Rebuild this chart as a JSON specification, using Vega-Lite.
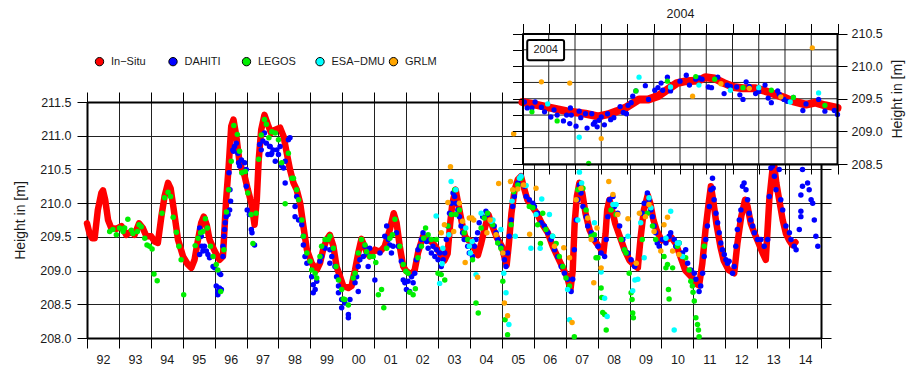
{
"$schema": "https://vega.github.io/schema/vega-lite/v6.json",
"width": 734, "height": 236,
"autosize": "none",
"padding": {"left": 87, "top": 102, "right": 96, "bottom": 28},
"background": "white",
"config": {
 "view": {"stroke": null},
 "font": "Liberation Sans",
 "axis": {"labelFont": "Liberation Sans", "labelFontSize": 12.5, "labelColor": "#1a1a1a", "titleFont": "Liberation Sans", "titleFontSize": 14, "titleFontWeight": "normal", "titleColor": "#1a1a1a", "domainColor": "#000", "domainWidth": 2, "tickColor": "#000", "tickSize": 10, "tickWidth": 1, "gridColor": "#222", "gridWidth": 1, "gridOpacity": 1, "labelPadding": 4},
 "legend": {"labelFont": "Liberation Sans", "labelFontSize": 11, "labelColor": "#1a1a1a"}
},
"datasets": {
 "insitu": [
  {"t":1992.00,"h":209.70},{"t":1992.08,"h":209.55},{"t":1992.16,"h":209.48},{"t":1992.24,"h":209.48},{"t":1992.34,"h":209.90},{"t":1992.45,"h":210.15},{"t":1992.50,"h":210.19},{"t":1992.57,"h":210.05},{"t":1992.66,"h":209.75},{"t":1992.76,"h":209.63},{"t":1992.92,"h":209.62},{"t":1993.08,"h":209.66},{"t":1993.23,"h":209.53},{"t":1993.39,"h":209.58},{"t":1993.49,"h":209.53},{"t":1993.63,"h":209.70},{"t":1993.75,"h":209.63},{"t":1993.86,"h":209.51},{"t":1994.01,"h":209.51},{"t":1994.12,"h":209.43},{"t":1994.22,"h":209.41},{"t":1994.33,"h":209.80},{"t":1994.43,"h":210.10},{"t":1994.54,"h":210.30},{"t":1994.62,"h":210.22},{"t":1994.72,"h":209.90},{"t":1994.85,"h":209.46},{"t":1995.01,"h":209.21},{"t":1995.16,"h":209.09},{"t":1995.27,"h":209.04},{"t":1995.37,"h":209.16},{"t":1995.48,"h":209.46},{"t":1995.58,"h":209.71},{"t":1995.66,"h":209.80},{"t":1995.75,"h":209.68},{"t":1995.84,"h":209.46},{"t":1996.00,"h":209.29},{"t":1996.15,"h":209.16},{"t":1996.26,"h":209.21},{"t":1996.36,"h":210.05},{"t":1996.44,"h":210.55},{"t":1996.52,"h":211.14},{"t":1996.59,"h":211.24},{"t":1996.68,"h":210.99},{"t":1996.78,"h":210.60},{"t":1996.94,"h":210.40},{"t":1997.04,"h":210.20},{"t":1997.15,"h":210.00},{"t":1997.25,"h":209.68},{"t":1997.32,"h":210.05},{"t":1997.38,"h":210.64},{"t":1997.46,"h":211.09},{"t":1997.56,"h":211.31},{"t":1997.67,"h":211.16},{"t":1997.77,"h":211.04},{"t":1997.90,"h":211.09},{"t":1998.05,"h":211.12},{"t":1998.16,"h":210.99},{"t":1998.26,"h":210.74},{"t":1998.36,"h":210.50},{"t":1998.47,"h":210.30},{"t":1998.57,"h":210.20},{"t":1998.68,"h":210.00},{"t":1998.78,"h":209.66},{"t":1998.89,"h":209.31},{"t":1999.04,"h":209.11},{"t":1999.20,"h":209.01},{"t":1999.30,"h":209.11},{"t":1999.41,"h":209.33},{"t":1999.51,"h":209.46},{"t":1999.61,"h":209.53},{"t":1999.72,"h":209.36},{"t":1999.82,"h":209.06},{"t":1999.93,"h":208.91},{"t":2000.03,"h":208.77},{"t":2000.19,"h":208.74},{"t":2000.29,"h":208.77},{"t":2000.40,"h":209.01},{"t":2000.50,"h":209.26},{"t":2000.60,"h":209.47},{"t":2000.76,"h":209.28},{"t":2000.86,"h":209.21},{"t":2001.02,"h":209.31},{"t":2001.18,"h":209.28},{"t":2001.33,"h":209.36},{"t":2001.49,"h":209.61},{"t":2001.61,"h":209.85},{"t":2001.70,"h":209.71},{"t":2001.80,"h":209.36},{"t":2001.91,"h":209.06},{"t":2002.01,"h":208.99},{"t":2002.17,"h":208.94},{"t":2002.27,"h":209.01},{"t":2002.37,"h":209.26},{"t":2002.53,"h":209.51},{"t":2002.69,"h":209.46},{"t":2002.84,"h":209.41},{"t":2003.00,"h":209.30},{"t":2003.20,"h":209.15},{"t":2003.30,"h":209.25},{"t":2003.38,"h":209.70},{"t":2003.45,"h":210.00},{"t":2003.55,"h":210.20},{"t":2003.65,"h":209.95},{"t":2003.75,"h":209.70},{"t":2003.85,"h":209.50},{"t":2003.95,"h":209.45},{"t":2004.00,"h":209.45},{"t":2004.10,"h":209.36},{"t":2004.25,"h":209.23},{"t":2004.35,"h":209.40},{"t":2004.45,"h":209.60},{"t":2004.58,"h":209.83},{"t":2004.70,"h":209.66},{"t":2004.85,"h":209.48},{"t":2005.00,"h":209.36},{"t":2005.08,"h":209.20},{"t":2005.15,"h":209.08},{"t":2005.22,"h":209.40},{"t":2005.30,"h":209.85},{"t":2005.40,"h":210.20},{"t":2005.50,"h":210.35},{"t":2005.60,"h":210.40},{"t":2005.68,"h":210.25},{"t":2005.80,"h":210.05},{"t":2005.95,"h":209.95},{"t":2006.10,"h":209.85},{"t":2006.25,"h":209.70},{"t":2006.44,"h":209.56},{"t":2006.60,"h":209.35},{"t":2006.75,"h":209.20},{"t":2006.90,"h":209.05},{"t":2007.05,"h":208.90},{"t":2007.15,"h":208.72},{"t":2007.22,"h":209.00},{"t":2007.28,"h":209.70},{"t":2007.35,"h":210.10},{"t":2007.43,"h":210.30},{"t":2007.52,"h":210.15},{"t":2007.62,"h":209.85},{"t":2007.75,"h":209.60},{"t":2007.90,"h":209.45},{"t":2008.05,"h":209.35},{"t":2008.18,"h":209.26},{"t":2008.25,"h":209.55},{"t":2008.30,"h":209.90},{"t":2008.37,"h":210.05},{"t":2008.45,"h":209.90},{"t":2008.55,"h":209.70},{"t":2008.70,"h":209.50},{"t":2008.85,"h":209.30},{"t":2009.00,"h":209.15},{"t":2009.15,"h":209.08},{"t":2009.26,"h":209.04},{"t":2009.35,"h":209.50},{"t":2009.45,"h":209.90},{"t":2009.57,"h":210.12},{"t":2009.65,"h":210.00},{"t":2009.75,"h":209.75},{"t":2009.85,"h":209.60},{"t":2010.00,"h":209.45},{"t":2010.15,"h":209.45},{"t":2010.30,"h":209.50},{"t":2010.45,"h":209.40},{"t":2010.60,"h":209.20},{"t":2010.75,"h":209.00},{"t":2010.95,"h":208.90},{"t":2011.10,"h":208.80},{"t":2011.18,"h":208.78},{"t":2011.28,"h":209.10},{"t":2011.38,"h":209.60},{"t":2011.48,"h":210.00},{"t":2011.55,"h":210.25},{"t":2011.62,"h":210.05},{"t":2011.72,"h":209.70},{"t":2011.85,"h":209.35},{"t":2011.95,"h":209.15},{"t":2012.10,"h":209.01},{"t":2012.28,"h":208.96},{"t":2012.38,"h":209.40},{"t":2012.50,"h":209.80},{"t":2012.62,"h":210.05},{"t":2012.70,"h":209.95},{"t":2012.80,"h":209.70},{"t":2012.91,"h":209.56},{"t":2013.05,"h":209.40},{"t":2013.17,"h":209.26},{"t":2013.27,"h":209.16},{"t":2013.38,"h":210.05},{"t":2013.48,"h":210.50},{"t":2013.54,"h":210.54},{"t":2013.60,"h":210.30},{"t":2013.69,"h":210.05},{"t":2013.80,"h":209.75},{"t":2013.90,"h":209.55},{"t":2014.00,"h":209.45},{"t":2014.10,"h":209.38},{"t":2014.20,"h":209.42}
 ],
 "pts": [
  {"s":"DAHITI","t":1995.53,"h":209.63},{"s":"DAHITI","t":1995.58,"h":209.51},{"s":"DAHITI","t":1995.60,"h":209.36},{"s":"DAHITI","t":1995.53,"h":209.24},{"s":"DAHITI","t":1995.63,"h":209.29},{"s":"DAHITI","t":1995.68,"h":209.36},{"s":"DAHITI","t":1995.79,"h":209.24},{"s":"DAHITI","t":1995.84,"h":209.19},{"s":"DAHITI","t":1995.74,"h":209.29},{"s":"DAHITI","t":1995.95,"h":209.06},{"s":"DAHITI","t":1996.00,"h":209.04},{"s":"DAHITI","t":1996.15,"h":208.96},{"s":"DAHITI","t":1996.05,"h":208.77},{"s":"DAHITI","t":1996.10,"h":208.69},{"s":"DAHITI","t":1996.15,"h":208.74},{"s":"DAHITI","t":1996.10,"h":208.64},{"s":"DAHITI","t":1996.21,"h":208.72},{"s":"DAHITI","t":1996.19,"h":208.94},{"s":"DAHITI","t":1996.26,"h":209.21},{"s":"DAHITI","t":1996.26,"h":209.36},{"s":"DAHITI","t":1996.29,"h":209.51},{"s":"DAHITI","t":1996.31,"h":209.61},{"s":"DAHITI","t":1996.33,"h":209.71},{"s":"DAHITI","t":1996.36,"h":209.80},{"s":"DAHITI","t":1996.42,"h":209.83},{"s":"DAHITI","t":1996.47,"h":209.90},{"s":"DAHITI","t":1996.50,"h":210.03},{"s":"DAHITI","t":1996.48,"h":210.20},{"s":"DAHITI","t":1996.45,"h":210.45},{"s":"DAHITI","t":1996.57,"h":210.79},{"s":"DAHITI","t":1996.62,"h":210.84},{"s":"DAHITI","t":1996.68,"h":210.89},{"s":"DAHITI","t":1996.73,"h":210.74},{"s":"DAHITI","t":1996.59,"h":210.77},{"s":"DAHITI","t":1996.75,"h":210.60},{"s":"DAHITI","t":1996.84,"h":210.64},{"s":"DAHITI","t":1996.78,"h":210.55},{"s":"DAHITI","t":1996.94,"h":210.60},{"s":"DAHITI","t":1996.99,"h":210.50},{"s":"DAHITI","t":1996.99,"h":210.25},{"s":"DAHITI","t":1997.02,"h":209.90},{"s":"DAHITI","t":1997.09,"h":209.83},{"s":"DAHITI","t":1997.15,"h":209.61},{"s":"DAHITI","t":1997.25,"h":209.38},{"s":"DAHITI","t":1997.17,"h":209.56},{"s":"DAHITI","t":1997.41,"h":210.87},{"s":"DAHITI","t":1997.46,"h":210.79},{"s":"DAHITI","t":1997.51,"h":210.92},{"s":"DAHITI","t":1997.56,"h":211.04},{"s":"DAHITI","t":1997.62,"h":210.89},{"s":"DAHITI","t":1997.67,"h":210.72},{"s":"DAHITI","t":1997.72,"h":210.84},{"s":"DAHITI","t":1997.77,"h":210.72},{"s":"DAHITI","t":1997.83,"h":210.79},
  {"s":"DAHITI","t":1997.74,"h":210.84},{"s":"DAHITI","t":1997.79,"h":210.74},{"s":"DAHITI","t":1997.90,"h":210.62},{"s":"DAHITI","t":1997.95,"h":210.79},{"s":"DAHITI","t":1998.00,"h":210.72},{"s":"DAHITI","t":1998.05,"h":210.84},{"s":"DAHITI","t":1998.10,"h":210.55},{"s":"DAHITI","t":1998.16,"h":210.52},{"s":"DAHITI","t":1998.21,"h":210.30},{"s":"DAHITI","t":1998.21,"h":210.62},{"s":"DAHITI","t":1998.31,"h":210.94},{"s":"DAHITI","t":1998.36,"h":210.97},{"s":"DAHITI","t":1998.52,"h":209.95},{"s":"DAHITI","t":1998.52,"h":209.80},{"s":"DAHITI","t":1998.57,"h":210.10},{"s":"DAHITI","t":1998.63,"h":209.75},{"s":"DAHITI","t":1998.73,"h":209.68},{"s":"DAHITI","t":1998.78,"h":209.51},{"s":"DAHITI","t":1998.78,"h":209.38},{"s":"DAHITI","t":1998.83,"h":209.21},{"s":"DAHITI","t":1998.89,"h":209.11},{"s":"DAHITI","t":1999.04,"h":208.91},{"s":"DAHITI","t":1999.09,"h":208.79},{"s":"DAHITI","t":1999.09,"h":208.67},{"s":"DAHITI","t":1999.15,"h":208.72},{"s":"DAHITI","t":1999.20,"h":208.84},{"s":"DAHITI","t":1999.30,"h":209.14},{"s":"DAHITI","t":1999.35,"h":209.21},{"s":"DAHITI","t":1999.46,"h":209.33},{"s":"DAHITI","t":1999.51,"h":209.46},{"s":"DAHITI","t":1999.61,"h":209.31},{"s":"DAHITI","t":1999.61,"h":209.11},{"s":"DAHITI","t":1999.67,"h":209.21},{"s":"DAHITI","t":1999.77,"h":209.06},{"s":"DAHITI","t":1999.82,"h":208.91},{"s":"DAHITI","t":1999.88,"h":208.77},{"s":"DAHITI","t":1999.88,"h":208.67},{"s":"DAHITI","t":1999.98,"h":208.57},{"s":"DAHITI","t":1999.98,"h":208.45},{"s":"DAHITI","t":2000.08,"h":208.52},{"s":"DAHITI","t":2000.19,"h":208.35},{"s":"DAHITI","t":2000.19,"h":208.30},{"s":"DAHITI","t":2000.24,"h":208.57},{"s":"DAHITI","t":2000.40,"h":208.82},{"s":"DAHITI","t":2000.45,"h":208.91},{"s":"DAHITI","t":2000.50,"h":208.69},{"s":"DAHITI","t":2000.50,"h":209.06},{"s":"DAHITI","t":2000.55,"h":209.16},{"s":"DAHITI","t":2000.66,"h":209.21},{"s":"DAHITI","t":2000.71,"h":209.36},{"s":"DAHITI","t":2000.76,"h":209.26},{"s":"DAHITI","t":2000.81,"h":209.06},{"s":"DAHITI","t":2000.86,"h":209.33},{"s":"DAHITI","t":2001.02,"h":208.86},{"s":"DAHITI","t":2001.18,"h":209.26},{"s":"DAHITI","t":2001.33,"h":209.51},{"s":"DAHITI","t":2001.39,"h":209.66},{"s":"DAHITI","t":2001.44,"h":209.46},{"s":"DAHITI","t":2001.49,"h":209.38},{"s":"DAHITI","t":2001.54,"h":209.26},{"s":"DAHITI","t":2001.59,"h":209.36},{"s":"DAHITI","t":2001.70,"h":209.56},{"s":"DAHITI","t":2001.75,"h":209.36},{"s":"DAHITI","t":2001.85,"h":209.14},{"s":"DAHITI","t":2001.91,"h":208.86},{"s":"DAHITI","t":2001.96,"h":208.82},{"s":"DAHITI","t":2002.01,"h":208.72},{"s":"DAHITI","t":2002.06,"h":208.84},{"s":"DAHITI","t":2002.11,"h":208.69},{"s":"DAHITI","t":2002.17,"h":208.91},{"s":"DAHITI","t":2002.22,"h":208.82},{"s":"DAHITI","t":2002.27,"h":208.96},{"s":"DAHITI","t":2002.32,"h":209.16},{"s":"DAHITI","t":2002.37,"h":209.31},{"s":"DAHITI","t":2002.43,"h":209.36},{"s":"DAHITI","t":2002.48,"h":209.46},{"s":"DAHITI","t":2002.53,"h":209.56},{"s":"DAHITI","t":2002.64,"h":209.43},{"s":"DAHITI","t":2002.69,"h":209.33},{"s":"DAHITI","t":2002.74,"h":209.46},{"s":"DAHITI","t":2002.79,"h":209.26},{"s":"DAHITI","t":2002.84,"h":209.36},{"s":"DAHITI","t":2002.90,"h":209.21},{"s":"DAHITI","t":2002.95,"h":209.31},{"s":"DAHITI","t":2003.00,"h":209.16},{"s":"DAHITI","t":2003.05,"h":209.26},{"s":"DAHITI","t":2003.10,"h":209.06},{"s":"DAHITI","t":2003.16,"h":209.16},{"s":"DAHITI","t":2003.21,"h":209.26},{"s":"DAHITI","t":2003.26,"h":209.46},{"s":"DAHITI","t":2003.31,"h":209.66},{"s":"DAHITI","t":2003.36,"h":209.85},{"s":"DAHITI","t":2003.42,"h":210.00},{"s":"DAHITI","t":2003.47,"h":210.15},{"s":"DAHITI","t":2003.52,"h":210.10},{"s":"DAHITI","t":2003.57,"h":210.00},{"s":"DAHITI","t":2003.62,"h":209.90},
  {"s":"DAHITI","t":2003.67,"h":209.80},{"s":"DAHITI","t":2003.72,"h":209.66},{"s":"DAHITI","t":2003.77,"h":209.56},{"s":"DAHITI","t":2003.82,"h":209.46},{"s":"DAHITI","t":2003.93,"h":209.36},{"s":"DAHITI","t":2003.98,"h":209.26},{"s":"DAHITI","t":2004.08,"h":209.21},{"s":"DAHITI","t":2004.14,"h":209.36},{"s":"DAHITI","t":2004.19,"h":209.46},{"s":"DAHITI","t":2004.24,"h":209.56},{"s":"DAHITI","t":2004.29,"h":209.71},{"s":"DAHITI","t":2004.40,"h":209.80},{"s":"DAHITI","t":2004.50,"h":209.88},{"s":"DAHITI","t":2004.55,"h":209.83},{"s":"DAHITI","t":2004.66,"h":209.75},{"s":"DAHITI","t":2004.76,"h":209.66},{"s":"DAHITI","t":2004.82,"h":209.56},{"s":"DAHITI","t":2004.87,"h":209.46},{"s":"DAHITI","t":2004.97,"h":209.36},{"s":"DAHITI","t":2005.03,"h":209.26},{"s":"DAHITI","t":2005.08,"h":209.16},{"s":"DAHITI","t":2005.13,"h":209.06},{"s":"DAHITI","t":2005.18,"h":209.26},{"s":"DAHITI","t":2005.23,"h":209.51},{"s":"DAHITI","t":2005.29,"h":209.75},{"s":"DAHITI","t":2005.34,"h":209.95},{"s":"DAHITI","t":2005.39,"h":210.10},{"s":"DAHITI","t":2005.50,"h":210.30},{"s":"DAHITI","t":2005.60,"h":210.40},{"s":"DAHITI","t":2005.71,"h":210.25},{"s":"DAHITI","t":2005.76,"h":210.10},{"s":"DAHITI","t":2005.86,"h":210.05},{"s":"DAHITI","t":2005.97,"h":210.00},{"s":"DAHITI","t":2006.02,"h":209.95},{"s":"DAHITI","t":2006.12,"h":209.85},{"s":"DAHITI","t":2006.23,"h":209.71},{"s":"DAHITI","t":2006.33,"h":209.66},{"s":"DAHITI","t":2006.44,"h":209.56},{"s":"DAHITI","t":2006.54,"h":209.46},{"s":"DAHITI","t":2006.65,"h":209.31},{"s":"DAHITI","t":2006.75,"h":209.21},{"s":"DAHITI","t":2006.86,"h":209.06},{"s":"DAHITI","t":2006.96,"h":208.96},{"s":"DAHITI","t":2007.06,"h":208.87},{"s":"DAHITI","t":2007.17,"h":208.69},{"s":"DAHITI","t":2007.22,"h":208.87},{"s":"DAHITI","t":2007.27,"h":209.31},{"s":"DAHITI","t":2007.33,"h":209.75},{"s":"DAHITI","t":2007.38,"h":210.05},{"s":"DAHITI","t":2007.43,"h":210.27},{"s":"DAHITI","t":2007.48,"h":210.15},{"s":"DAHITI","t":2007.54,"h":209.95},{"s":"DAHITI","t":2007.64,"h":209.80},{"s":"DAHITI","t":2007.69,"h":209.66},{"s":"DAHITI","t":2007.80,"h":209.56},{"s":"DAHITI","t":2007.90,"h":209.46},{"s":"DAHITI","t":2008.01,"h":209.36},{"s":"DAHITI","t":2008.11,"h":209.26},{"s":"DAHITI","t":2008.22,"h":209.21},{"s":"DAHITI","t":2008.27,"h":209.46},{"s":"DAHITI","t":2008.32,"h":209.80},{"s":"DAHITI","t":2008.37,"h":210.05},{"s":"DAHITI","t":2008.48,"h":210.10},{"s":"DAHITI","t":2008.53,"h":209.95},{"s":"DAHITI","t":2008.63,"h":209.85},{"s":"DAHITI","t":2008.69,"h":209.66},{"s":"DAHITI","t":2008.79,"h":209.46},{"s":"DAHITI","t":2008.84,"h":209.31},{"s":"DAHITI","t":2008.95,"h":209.26},{"s":"DAHITI","t":2009.05,"h":209.16},{"s":"DAHITI","t":2009.16,"h":209.06},
  {"s":"DAHITI","t":2009.40,"h":209.85},{"s":"DAHITI","t":2009.46,"h":210.00},{"s":"DAHITI","t":2009.56,"h":210.15},{"s":"DAHITI","t":2009.61,"h":210.05},{"s":"DAHITI","t":2009.67,"h":209.90},{"s":"DAHITI","t":2009.72,"h":209.80},{"s":"DAHITI","t":2009.77,"h":209.66},{"s":"DAHITI","t":2009.82,"h":209.56},{"s":"DAHITI","t":2009.87,"h":209.41},{"s":"DAHITI","t":2009.93,"h":209.36},{"s":"DAHITI","t":2010.03,"h":209.46},{"s":"DAHITI","t":2010.14,"h":209.41},{"s":"DAHITI","t":2010.24,"h":209.51},{"s":"DAHITI","t":2010.29,"h":209.56},{"s":"DAHITI","t":2010.40,"h":209.46},{"s":"DAHITI","t":2010.45,"h":209.36},{"s":"DAHITI","t":2010.55,"h":209.41},{"s":"DAHITI","t":2010.66,"h":209.26},{"s":"DAHITI","t":2010.76,"h":209.31},{"s":"DAHITI","t":2010.82,"h":209.11},{"s":"DAHITI","t":2010.92,"h":209.01},{"s":"DAHITI","t":2011.03,"h":208.96},{"s":"DAHITI","t":2011.08,"h":208.87},{"s":"DAHITI","t":2011.18,"h":208.69},{"s":"DAHITI","t":2011.23,"h":208.77},{"s":"DAHITI","t":2011.29,"h":208.96},{"s":"DAHITI","t":2011.34,"h":209.21},{"s":"DAHITI","t":2011.39,"h":209.46},{"s":"DAHITI","t":2011.44,"h":209.66},{"s":"DAHITI","t":2011.50,"h":209.95},{"s":"DAHITI","t":2011.55,"h":210.20},{"s":"DAHITI","t":2011.60,"h":210.37},{"s":"DAHITI","t":2011.62,"h":210.22},{"s":"DAHITI","t":2011.65,"h":210.05},{"s":"DAHITI","t":2011.71,"h":209.85},{"s":"DAHITI","t":2011.76,"h":209.71},{"s":"DAHITI","t":2011.81,"h":209.56},{"s":"DAHITI","t":2011.86,"h":209.41},{"s":"DAHITI","t":2011.91,"h":209.31},{"s":"DAHITI","t":2011.97,"h":209.24},{"s":"DAHITI","t":2012.02,"h":209.16},{"s":"DAHITI","t":2012.07,"h":209.11},{"s":"DAHITI","t":2012.12,"h":209.14},{"s":"DAHITI","t":2012.23,"h":208.96},{"s":"DAHITI","t":2012.28,"h":209.06},{"s":"DAHITI","t":2012.33,"h":209.36},{"s":"DAHITI","t":2012.38,"h":209.61},{"s":"DAHITI","t":2012.44,"h":209.75},{"s":"DAHITI","t":2012.49,"h":209.90},{"s":"DAHITI","t":2012.54,"h":210.25},{"s":"DAHITI","t":2012.59,"h":210.30},{"s":"DAHITI","t":2012.65,"h":210.20},{"s":"DAHITI","t":2012.70,"h":210.05},{"s":"DAHITI","t":2012.75,"h":209.85},{"s":"DAHITI","t":2012.80,"h":209.75},{"s":"DAHITI","t":2012.86,"h":209.66},{"s":"DAHITI","t":2012.91,"h":209.56},{"s":"DAHITI","t":2013.01,"h":209.46},{"s":"DAHITI","t":2013.12,"h":209.46},{"s":"DAHITI","t":2013.22,"h":209.36},{"s":"DAHITI","t":2013.33,"h":209.46},{"s":"DAHITI","t":2013.38,"h":210.10},{"s":"DAHITI","t":2013.43,"h":210.52},{"s":"DAHITI","t":2013.48,"h":210.55},{"s":"DAHITI","t":2013.54,"h":210.40},{"s":"DAHITI","t":2013.59,"h":210.20},{"s":"DAHITI","t":2013.69,"h":210.50},{"s":"DAHITI","t":2013.74,"h":210.05},{"s":"DAHITI","t":2013.80,"h":209.90},{"s":"DAHITI","t":2013.90,"h":209.66},{"s":"DAHITI","t":2014.01,"h":209.56},{"s":"DAHITI","t":2014.06,"h":209.46},{"s":"DAHITI","t":2014.16,"h":209.36},{"s":"DAHITI","t":2014.22,"h":209.31},{"s":"DAHITI","t":2014.32,"h":209.61},{"s":"DAHITI","t":2014.37,"h":209.80},{"s":"DAHITI","t":2014.37,"h":210.12},{"s":"DAHITI","t":2014.37,"h":209.88},{"s":"DAHITI","t":2014.42,"h":210.50},{"s":"DAHITI","t":2014.42,"h":210.25},{"s":"DAHITI","t":2014.58,"h":210.30},{"s":"DAHITI","t":2014.63,"h":210.20},{"s":"DAHITI","t":2014.69,"h":210.05},{"s":"DAHITI","t":2014.74,"h":210.00},{"s":"DAHITI","t":2014.79,"h":209.75},{"s":"DAHITI","t":2014.84,"h":209.51},{"s":"DAHITI","t":2014.90,"h":209.36},
  {"s":"LEGOS","t":1992.71,"h":209.58},{"s":"LEGOS","t":1992.81,"h":209.61},{"s":"LEGOS","t":1992.92,"h":209.53},{"s":"LEGOS","t":1993.02,"h":209.63},{"s":"LEGOS","t":1993.13,"h":209.58},{"s":"LEGOS","t":1993.18,"h":209.63},{"s":"LEGOS","t":1993.28,"h":209.76},{"s":"LEGOS","t":1993.39,"h":209.60},{"s":"LEGOS","t":1993.44,"h":209.55},{"s":"LEGOS","t":1993.58,"h":209.58},{"s":"LEGOS","t":1993.63,"h":209.68},{"s":"LEGOS","t":1993.70,"h":209.65},{"s":"LEGOS","t":1993.81,"h":209.48},{"s":"LEGOS","t":1993.88,"h":209.38},{"s":"LEGOS","t":1993.96,"h":209.36},{"s":"LEGOS","t":1994.04,"h":209.32},{"s":"LEGOS","t":1994.10,"h":208.95},{"s":"LEGOS","t":1994.20,"h":208.85},{"s":"LEGOS","t":1994.35,"h":209.85},{"s":"LEGOS","t":1994.43,"h":210.08},{"s":"LEGOS","t":1994.54,"h":210.16},{"s":"LEGOS","t":1994.62,"h":210.10},{"s":"LEGOS","t":1994.70,"h":209.79},{"s":"LEGOS","t":1994.80,"h":209.57},{"s":"LEGOS","t":1994.88,"h":209.36},{"s":"LEGOS","t":1994.95,"h":209.16},{"s":"LEGOS","t":1995.03,"h":208.64},{"s":"LEGOS","t":1995.39,"h":209.37},{"s":"LEGOS","t":1995.48,"h":209.48},{"s":"LEGOS","t":1995.56,"h":209.56},{"s":"LEGOS","t":1995.63,"h":209.58},{"s":"LEGOS","t":1995.71,"h":209.77},{"s":"LEGOS","t":1995.77,"h":209.63},{"s":"LEGOS","t":1995.87,"h":209.36},{"s":"LEGOS","t":1995.95,"h":209.21},{"s":"LEGOS","t":1996.05,"h":209.09},{"s":"LEGOS","t":1996.10,"h":209.01},{"s":"LEGOS","t":1996.19,"h":208.69},{"s":"LEGOS","t":1996.29,"h":209.31},{"s":"LEGOS","t":1996.37,"h":209.87},{"s":"LEGOS","t":1996.44,"h":210.20},{"s":"LEGOS","t":1996.52,"h":210.62},{"s":"LEGOS","t":1996.60,"h":211.15},{"s":"LEGOS","t":1996.71,"h":211.02},{"s":"LEGOS","t":1996.78,"h":210.77},{"s":"LEGOS","t":1996.85,"h":210.45},{"s":"LEGOS","t":1996.96,"h":210.47},{"s":"LEGOS","t":1997.04,"h":210.15},{"s":"LEGOS","t":1997.14,"h":209.83},{"s":"LEGOS","t":1997.20,"h":209.40},{"s":"LEGOS","t":1997.30,"h":209.85},{"s":"LEGOS","t":1997.38,"h":210.65},{"s":"LEGOS","t":1997.46,"h":211.01},{"s":"LEGOS","t":1997.56,"h":211.24},{"s":"LEGOS","t":1997.62,"h":211.17},{"s":"LEGOS","t":1997.70,"h":210.97},{"s":"LEGOS","t":1997.79,"h":211.06},
  {"s":"LEGOS","t":1997.90,"h":211.04},{"s":"LEGOS","t":1998.00,"h":210.94},{"s":"LEGOS","t":1998.10,"h":210.60},{"s":"LEGOS","t":1998.21,"h":209.99},{"s":"LEGOS","t":1998.31,"h":210.74},{"s":"LEGOS","t":1998.42,"h":210.37},{"s":"LEGOS","t":1998.47,"h":210.37},{"s":"LEGOS","t":1998.57,"h":210.20},{"s":"LEGOS","t":1998.63,"h":210.05},{"s":"LEGOS","t":1998.73,"h":209.75},{"s":"LEGOS","t":1998.78,"h":209.51},{"s":"LEGOS","t":1998.89,"h":209.26},{"s":"LEGOS","t":1998.99,"h":209.14},{"s":"LEGOS","t":1999.04,"h":209.01},{"s":"LEGOS","t":1999.15,"h":208.96},{"s":"LEGOS","t":1999.20,"h":208.89},{"s":"LEGOS","t":1999.30,"h":209.21},{"s":"LEGOS","t":1999.35,"h":209.36},{"s":"LEGOS","t":1999.46,"h":209.46},{"s":"LEGOS","t":1999.56,"h":209.46},{"s":"LEGOS","t":1999.61,"h":209.51},{"s":"LEGOS","t":1999.72,"h":209.33},{"s":"LEGOS","t":1999.80,"h":209.06},{"s":"LEGOS","t":1999.88,"h":208.86},{"s":"LEGOS","t":1999.98,"h":208.72},{"s":"LEGOS","t":2000.03,"h":208.58},{"s":"LEGOS","t":2000.08,"h":208.57},{"s":"LEGOS","t":2000.19,"h":208.49},{"s":"LEGOS","t":2000.34,"h":208.89},{"s":"LEGOS","t":2000.40,"h":208.96},{"s":"LEGOS","t":2000.50,"h":209.26},{"s":"LEGOS","t":2000.60,"h":209.46},{"s":"LEGOS","t":2000.71,"h":209.38},{"s":"LEGOS","t":2000.76,"h":209.28},{"s":"LEGOS","t":2000.86,"h":209.21},{"s":"LEGOS","t":2000.97,"h":209.21},{"s":"LEGOS","t":2001.05,"h":209.12},{"s":"LEGOS","t":2001.13,"h":208.64},{"s":"LEGOS","t":2001.23,"h":208.72},{"s":"LEGOS","t":2001.30,"h":208.45},{"s":"LEGOS","t":2001.39,"h":209.33},{"s":"LEGOS","t":2001.49,"h":209.48},{"s":"LEGOS","t":2001.57,"h":209.53},{"s":"LEGOS","t":2001.65,"h":209.76},{"s":"LEGOS","t":2001.80,"h":209.36},{"s":"LEGOS","t":2001.91,"h":209.09},{"s":"LEGOS","t":2001.99,"h":208.99},{"s":"LEGOS","t":2002.06,"h":208.96},{"s":"LEGOS","t":2002.11,"h":208.68},{"s":"LEGOS","t":2002.22,"h":208.64},{"s":"LEGOS","t":2002.29,"h":208.73},{"s":"LEGOS","t":2002.37,"h":209.19},{"s":"LEGOS","t":2002.48,"h":209.36},{"s":"LEGOS","t":2002.55,"h":209.48},{"s":"LEGOS","t":2002.61,"h":209.63},{"s":"LEGOS","t":2002.69,"h":209.53},{"s":"LEGOS","t":2002.79,"h":209.46},{"s":"LEGOS","t":2002.95,"h":209.46},{"s":"LEGOS","t":2003.00,"h":208.96},{"s":"LEGOS","t":2003.10,"h":208.94},{"s":"LEGOS","t":2003.21,"h":208.86},{"s":"LEGOS","t":2003.31,"h":209.66},{"s":"LEGOS","t":2003.42,"h":209.83},{"s":"LEGOS","t":2003.52,"h":210.20},
  {"s":"LEGOS","t":2003.56,"h":209.83},{"s":"LEGOS","t":2003.67,"h":209.90},{"s":"LEGOS","t":2003.82,"h":209.56},{"s":"LEGOS","t":2003.93,"h":209.46},{"s":"LEGOS","t":2004.08,"h":209.16},{"s":"LEGOS","t":2004.19,"h":208.52},{"s":"LEGOS","t":2004.26,"h":208.37},{"s":"LEGOS","t":2004.35,"h":209.63},{"s":"LEGOS","t":2004.45,"h":209.78},{"s":"LEGOS","t":2004.55,"h":209.85},{"s":"LEGOS","t":2004.71,"h":209.68},{"s":"LEGOS","t":2004.87,"h":209.41},{"s":"LEGOS","t":2004.97,"h":209.33},{"s":"LEGOS","t":2005.03,"h":208.84},{"s":"LEGOS","t":2005.10,"h":208.27},{"s":"LEGOS","t":2005.18,"h":208.05},{"s":"LEGOS","t":2005.29,"h":209.68},{"s":"LEGOS","t":2005.37,"h":210.17},{"s":"LEGOS","t":2005.50,"h":210.27},{"s":"LEGOS","t":2005.60,"h":210.37},{"s":"LEGOS","t":2005.86,"h":209.95},{"s":"LEGOS","t":2005.97,"h":209.93},{"s":"LEGOS","t":2006.12,"h":209.68},{"s":"LEGOS","t":2006.21,"h":209.40},{"s":"LEGOS","t":2006.28,"h":209.85},{"s":"LEGOS","t":2006.38,"h":209.61},{"s":"LEGOS","t":2006.59,"h":209.51},{"s":"LEGOS","t":2006.70,"h":209.40},{"s":"LEGOS","t":2006.80,"h":209.21},{"s":"LEGOS","t":2006.91,"h":209.06},{"s":"LEGOS","t":2007.01,"h":208.89},{"s":"LEGOS","t":2007.12,"h":208.77},{"s":"LEGOS","t":2007.27,"h":208.02},{"s":"LEGOS","t":2007.38,"h":210.20},{"s":"LEGOS","t":2007.54,"h":210.22},{"s":"LEGOS","t":2007.64,"h":209.90},{"s":"LEGOS","t":2007.80,"h":209.51},{"s":"LEGOS","t":2007.90,"h":209.53},{"s":"LEGOS","t":2007.95,"h":209.19},{"s":"LEGOS","t":2008.01,"h":209.19},{"s":"LEGOS","t":2008.11,"h":208.74},{"s":"LEGOS","t":2008.13,"h":208.60},{"s":"LEGOS","t":2008.16,"h":208.38},{"s":"LEGOS","t":2008.22,"h":208.35},{"s":"LEGOS","t":2008.27,"h":208.12},{"s":"LEGOS","t":2008.42,"h":209.90},{"s":"LEGOS","t":2008.58,"h":209.83},{"s":"LEGOS","t":2008.74,"h":209.46},{"s":"LEGOS","t":2008.84,"h":209.31},{"s":"LEGOS","t":2008.89,"h":209.26},{"s":"LEGOS","t":2008.99,"h":208.96},{"s":"LEGOS","t":2009.05,"h":208.67},{"s":"LEGOS","t":2009.08,"h":208.57},{"s":"LEGOS","t":2009.10,"h":208.37},{"s":"LEGOS","t":2009.12,"h":208.30},
  {"s":"LEGOS","t":2009.40,"h":209.46},{"s":"LEGOS","t":2009.56,"h":209.85},{"s":"LEGOS","t":2009.72,"h":209.66},{"s":"LEGOS","t":2009.82,"h":209.46},{"s":"LEGOS","t":2010.08,"h":209.21},{"s":"LEGOS","t":2010.14,"h":209.04},{"s":"LEGOS","t":2010.19,"h":209.09},{"s":"LEGOS","t":2010.22,"h":208.72},{"s":"LEGOS","t":2010.24,"h":208.58},{"s":"LEGOS","t":2010.35,"h":209.04},{"s":"LEGOS","t":2010.50,"h":209.36},{"s":"LEGOS","t":2010.55,"h":209.41},{"s":"LEGOS","t":2010.66,"h":209.21},{"s":"LEGOS","t":2010.76,"h":209.19},{"s":"LEGOS","t":2010.87,"h":209.01},{"s":"LEGOS","t":2010.92,"h":208.84},{"s":"LEGOS","t":2010.97,"h":208.77},{"s":"LEGOS","t":2010.99,"h":208.68},{"s":"LEGOS","t":2011.03,"h":208.55},{"s":"LEGOS","t":2011.08,"h":208.30},{"s":"LEGOS","t":2011.13,"h":208.20},{"s":"LEGOS","t":2011.16,"h":208.12},{"s":"LEGOS","t":2011.18,"h":208.02},{"s":"LEGOS","t":2011.34,"h":209.36},
  {"s":"ESA−DMU","t":2002.94,"h":209.81},{"s":"ESA−DMU","t":2003.05,"h":208.81},{"s":"ESA−DMU","t":2003.13,"h":209.10},{"s":"ESA−DMU","t":2003.15,"h":209.33},{"s":"ESA−DMU","t":2003.34,"h":209.53},{"s":"ESA−DMU","t":2003.41,"h":210.32},{"s":"ESA−DMU","t":2003.56,"h":210.20},{"s":"ESA−DMU","t":2003.87,"h":209.63},{"s":"ESA−DMU","t":2003.98,"h":209.36},{"s":"ESA−DMU","t":2004.01,"h":209.26},{"s":"ESA−DMU","t":2004.07,"h":209.43},{"s":"ESA−DMU","t":2004.19,"h":208.94},{"s":"ESA−DMU","t":2004.35,"h":209.85},{"s":"ESA−DMU","t":2004.66,"h":209.73},{"s":"ESA−DMU","t":2004.72,"h":209.75},{"s":"ESA−DMU","t":2004.97,"h":209.61},{"s":"ESA−DMU","t":2005.06,"h":208.96},{"s":"ESA−DMU","t":2005.13,"h":208.67},{"s":"ESA−DMU","t":2005.22,"h":208.20},{"s":"ESA−DMU","t":2005.32,"h":210.03},{"s":"ESA−DMU","t":2005.42,"h":209.51},{"s":"ESA−DMU","t":2005.55,"h":210.37},{"s":"ESA−DMU","t":2005.60,"h":210.40},{"s":"ESA−DMU","t":2005.76,"h":210.26},{"s":"ESA−DMU","t":2005.91,"h":209.33},{"s":"ESA−DMU","t":2006.07,"h":209.83},{"s":"ESA−DMU","t":2006.20,"h":209.33},{"s":"ESA−DMU","t":2006.25,"h":210.06},{"s":"ESA−DMU","t":2006.49,"h":209.83},{"s":"ESA−DMU","t":2006.59,"h":209.51},{"s":"ESA−DMU","t":2007.06,"h":208.72},{"s":"ESA−DMU","t":2007.12,"h":208.27},{"s":"ESA−DMU","t":2007.38,"h":209.75},{"s":"ESA−DMU","t":2007.43,"h":210.46},{"s":"ESA−DMU","t":2007.50,"h":210.30},{"s":"ESA−DMU","t":2007.90,"h":209.71},{"s":"ESA−DMU","t":2008.11,"h":208.98},{"s":"ESA−DMU","t":2008.22,"h":208.59},{"s":"ESA−DMU","t":2008.30,"h":208.32},{"s":"ESA−DMU","t":2008.48,"h":209.98},{"s":"ESA−DMU","t":2008.58,"h":209.98},{"s":"ESA−DMU","t":2008.95,"h":209.51},{"s":"ESA−DMU","t":2009.10,"h":208.70},{"s":"ESA−DMU","t":2009.17,"h":208.86},{"s":"ESA−DMU","t":2009.26,"h":208.87},{"s":"ESA−DMU","t":2009.35,"h":209.71},{"s":"ESA−DMU","t":2009.46,"h":209.19},{"s":"ESA−DMU","t":2009.61,"h":210.08},{"s":"ESA−DMU","t":2009.67,"h":209.93},{"s":"ESA−DMU","t":2010.14,"h":209.48},{"s":"ESA−DMU","t":2010.29,"h":209.88},{"s":"ESA−DMU","t":2010.40,"h":208.12},{"s":"ESA−DMU","t":2010.50,"h":209.41},{"s":"ESA−DMU","t":2010.55,"h":209.41},{"s":"ESA−DMU","t":2010.66,"h":209.21},
  {"s":"GRLM","t":2003.10,"h":209.56},{"s":"GRLM","t":2003.20,"h":209.68},{"s":"GRLM","t":2003.31,"h":210.01},{"s":"GRLM","t":2003.39,"h":210.54},{"s":"GRLM","t":2003.49,"h":209.58},{"s":"GRLM","t":2003.67,"h":210.00},{"s":"GRLM","t":2003.77,"h":209.73},{"s":"GRLM","t":2003.85,"h":209.12},{"s":"GRLM","t":2003.98,"h":209.78},{"s":"GRLM","t":2004.06,"h":209.78},{"s":"GRLM","t":2004.12,"h":209.75},{"s":"GRLM","t":2004.24,"h":208.90},{"s":"GRLM","t":2004.53,"h":209.56},{"s":"GRLM","t":2004.63,"h":209.75},{"s":"GRLM","t":2004.82,"h":209.53},{"s":"GRLM","t":2004.90,"h":210.29},{"s":"GRLM","t":2005.03,"h":209.26},{"s":"GRLM","t":2005.08,"h":208.52},{"s":"GRLM","t":2005.18,"h":208.33},{"s":"GRLM","t":2005.27,"h":210.32},{"s":"GRLM","t":2005.34,"h":210.20},{"s":"GRLM","t":2005.37,"h":211.03},{"s":"GRLM","t":2005.50,"h":210.21},{"s":"GRLM","t":2005.68,"h":210.27},{"s":"GRLM","t":2005.87,"h":209.54},{"s":"GRLM","t":2006.07,"h":210.22},{"s":"GRLM","t":2006.65,"h":209.36},{"s":"GRLM","t":2006.94,"h":209.34},{"s":"GRLM","t":2007.12,"h":209.19},{"s":"GRLM","t":2007.20,"h":208.23},{"s":"GRLM","t":2007.33,"h":210.05},{"s":"GRLM","t":2007.48,"h":210.22},{"s":"GRLM","t":2007.69,"h":209.78},{"s":"GRLM","t":2007.80,"h":209.46},{"s":"GRLM","t":2007.88,"h":208.82},{"s":"GRLM","t":2007.98,"h":209.63},{"s":"GRLM","t":2008.11,"h":209.04},{"s":"GRLM","t":2008.35,"h":210.32},{"s":"GRLM","t":2008.48,"h":210.13},{"s":"GRLM","t":2008.63,"h":209.83},{"s":"GRLM","t":2008.95,"h":209.77},{"s":"GRLM","t":2009.21,"h":209.11},{"s":"GRLM","t":2009.31,"h":209.85},{"s":"GRLM","t":2009.50,"h":209.80},{"s":"GRLM","t":2009.61,"h":209.98},{"s":"GRLM","t":2009.77,"h":209.58},{"s":"GRLM","t":2009.98,"h":209.29},{"s":"GRLM","t":2010.08,"h":209.68},{"s":"GRLM","t":2010.19,"h":209.79},{"s":"GRLM","t":2010.35,"h":209.29},{"s":"GRLM","t":2010.55,"h":209.24}
 ],
 "insitu04": [
  {"t":2004.00,"h":209.45},{"t":2004.05,"h":209.40},{"t":2004.09,"h":209.36},{"t":2004.14,"h":209.31},{"t":2004.20,"h":209.27},{"t":2004.24,"h":209.23},{"t":2004.27,"h":209.26},{"t":2004.30,"h":209.31},{"t":2004.33,"h":209.37},{"t":2004.37,"h":209.49},{"t":2004.40,"h":209.49},{"t":2004.43,"h":209.54},{"t":2004.46,"h":209.64},{"t":2004.49,"h":209.74},{"t":2004.52,"h":209.77},{"t":2004.56,"h":209.78},{"t":2004.58,"h":209.83},{"t":2004.61,"h":209.81},{"t":2004.64,"h":209.74},{"t":2004.67,"h":209.68},{"t":2004.70,"h":209.66},{"t":2004.74,"h":209.66},{"t":2004.77,"h":209.62},{"t":2004.80,"h":209.57},{"t":2004.83,"h":209.52},{"t":2004.86,"h":209.46},{"t":2004.90,"h":209.41},{"t":2004.93,"h":209.44},{"t":2004.96,"h":209.40},{"t":2005.00,"h":209.36}
 ],
 "pts04": [
  {"s":"DAHITI","t":2004.006,"h":209.45},{"s":"DAHITI","t":2004.015,"h":209.36},{"s":"DAHITI","t":2004.03,"h":209.36},{"s":"DAHITI","t":2004.04,"h":209.45},{"s":"DAHITI","t":2004.06,"h":209.37},{"s":"DAHITI","t":2004.07,"h":209.30},{"s":"DAHITI","t":2004.09,"h":209.22},{"s":"DAHITI","t":2004.10,"h":209.33},{"s":"DAHITI","t":2004.11,"h":209.25},{"s":"DAHITI","t":2004.13,"h":209.16},{"s":"DAHITI","t":2004.14,"h":209.25},{"s":"DAHITI","t":2004.15,"h":209.12},{"s":"DAHITI","t":2004.152,"h":209.36},{"s":"DAHITI","t":2004.155,"h":209.25},{"s":"DAHITI","t":2004.17,"h":209.08},{"s":"DAHITI","t":2004.18,"h":209.31},{"s":"DAHITI","t":2004.185,"h":209.21},{"s":"DAHITI","t":2004.20,"h":209.27},{"s":"DAHITI","t":2004.205,"h":209.05},{"s":"DAHITI","t":2004.22,"h":209.27},{"s":"DAHITI","t":2004.225,"h":209.11},{"s":"DAHITI","t":2004.23,"h":209.14},{"s":"DAHITI","t":2004.237,"h":209.07},{"s":"DAHITI","t":2004.243,"h":209.17},{"s":"DAHITI","t":2004.25,"h":209.22},{"s":"DAHITI","t":2004.26,"h":209.10},{"s":"DAHITI","t":2004.27,"h":209.27},{"s":"DAHITI","t":2004.28,"h":209.18},{"s":"DAHITI","t":2004.29,"h":209.21},{"s":"DAHITI","t":2004.31,"h":209.38},{"s":"DAHITI","t":2004.32,"h":209.29},{"s":"DAHITI","t":2004.33,"h":209.27},{"s":"DAHITI","t":2004.335,"h":209.40},{"s":"DAHITI","t":2004.345,"h":209.44},{"s":"DAHITI","t":2004.35,"h":209.54},{"s":"DAHITI","t":2004.36,"h":209.62},{"s":"DAHITI","t":2004.39,"h":209.70},{"s":"DAHITI","t":2004.40,"h":209.49},{"s":"DAHITI","t":2004.42,"h":209.63},{"s":"DAHITI","t":2004.43,"h":209.67},{"s":"DAHITI","t":2004.44,"h":209.74},{"s":"DAHITI","t":2004.445,"h":209.63},{"s":"DAHITI","t":2004.46,"h":209.83},{"s":"DAHITI","t":2004.47,"h":209.62},{"s":"DAHITI","t":2004.50,"h":209.77},{"s":"DAHITI","t":2004.52,"h":209.86},{"s":"DAHITI","t":2004.53,"h":209.71},{"s":"DAHITI","t":2004.55,"h":209.80},{"s":"DAHITI","t":2004.56,"h":209.82},{"s":"DAHITI","t":2004.57,"h":209.80},{"s":"DAHITI","t":2004.59,"h":209.68},{"s":"DAHITI","t":2004.60,"h":209.67},{"s":"DAHITI","t":2004.62,"h":209.83},{"s":"DAHITI","t":2004.64,"h":209.58},{"s":"DAHITI","t":2004.65,"h":209.71},{"s":"DAHITI","t":2004.66,"h":209.69},{"s":"DAHITI","t":2004.68,"h":209.68},{"s":"DAHITI","t":2004.69,"h":209.56},{"s":"DAHITI","t":2004.70,"h":209.49},{"s":"DAHITI","t":2004.71,"h":209.76},{"s":"DAHITI","t":2004.72,"h":209.69},{"s":"DAHITI","t":2004.74,"h":209.58},{"s":"DAHITI","t":2004.75,"h":209.61},{"s":"DAHITI","t":2004.77,"h":209.71},{"s":"DAHITI","t":2004.78,"h":209.51},{"s":"DAHITI","t":2004.79,"h":209.44},{"s":"DAHITI","t":2004.81,"h":209.62},{"s":"DAHITI","t":2004.815,"h":209.57},{"s":"DAHITI","t":2004.83,"h":209.49},{"s":"DAHITI","t":2004.84,"h":209.46},{"s":"DAHITI","t":2004.86,"h":209.52},{"s":"DAHITI","t":2004.89,"h":209.32},{"s":"DAHITI","t":2004.90,"h":209.42},{"s":"DAHITI","t":2004.94,"h":209.49},{"s":"DAHITI","t":2004.96,"h":209.31},{"s":"DAHITI","t":2004.99,"h":209.32},{"s":"DAHITI","t":2005.0,"h":209.26},
  {"s":"LEGOS","t":2004.03,"h":209.30},{"s":"LEGOS","t":2004.11,"h":209.16},{"s":"LEGOS","t":2004.21,"h":208.51},{"s":"LEGOS","t":2004.36,"h":209.62},{"s":"LEGOS","t":2004.46,"h":209.77},{"s":"LEGOS","t":2004.55,"h":209.84},{"s":"LEGOS","t":2004.61,"h":209.80},{"s":"LEGOS","t":2004.70,"h":209.67},{"s":"LEGOS","t":2004.79,"h":209.63},{"s":"LEGOS","t":2004.86,"h":209.52},{"s":"LEGOS","t":2004.96,"h":209.40},
  {"s":"ESA−DMU","t":2004.08,"h":209.42},{"s":"ESA−DMU","t":2004.18,"h":208.91},{"s":"ESA−DMU","t":2004.37,"h":209.83},{"s":"ESA−DMU","t":2004.47,"h":209.68},{"s":"ESA−DMU","t":2004.56,"h":209.71},{"s":"ESA−DMU","t":2004.66,"h":209.63},{"s":"ESA−DMU","t":2004.75,"h":209.67},{"s":"ESA−DMU","t":2004.85,"h":209.45},{"s":"ESA−DMU","t":2004.94,"h":209.59},
  {"s":"GRLM","t":2004.06,"h":209.76},{"s":"GRLM","t":2004.15,"h":209.74},{"s":"GRLM","t":2004.25,"h":208.89},{"s":"GRLM","t":2004.54,"h":209.54},{"s":"GRLM","t":2004.63,"h":209.73},{"s":"GRLM","t":2004.72,"h":209.66},{"s":"GRLM","t":2004.82,"h":209.53},{"s":"GRLM","t":2004.92,"h":210.28}
 ],
 "igx": [{"v":2004},{"v":2004.0833},{"v":2004.1667},{"v":2004.25},{"v":2004.3333},{"v":2004.4167},{"v":2004.5},{"v":2004.5833},{"v":2004.6667},{"v":2004.75},{"v":2004.8333},{"v":2004.9167},{"v":2005}],
 "igy": [{"v":208.5},{"v":208.75},{"v":209},{"v":209.25},{"v":209.5},{"v":209.75},{"v":210},{"v":210.25},{"v":210.5}]
},
"layer": [
 {
  "layer": [
   {
    "data": {"name": "insitu"},
    "mark": {"type": "line", "color": "#ff0000", "strokeWidth": 6.5, "strokeCap": "round", "strokeJoin": "round"},
    "encoding": {
     "x": {"field": "t", "type": "quantitative", "scale": {"domain": [1992, 2015], "nice": false, "zero": false},
      "axis": {"orient": "bottom", "values": [1992,1993,1994,1995,1996,1997,1998,1999,2000,2001,2002,2003,2004,2005,2006,2007,2008,2009,2010,2011,2012,2013,2014,2015], "grid": true, "title": null, "labelExpr": "datum.value < 2015 ? substring(toString(datum.value), 2, 4) : ''", "labelOffset": 16, "labelPadding": 5, "labelFlush": false, "labelOverlap": false}},
     "y": {"field": "h", "type": "quantitative", "scale": {"domain": [208, 211.5], "nice": false, "zero": false},
      "axis": {"orient": "left", "values": [208,208.5,209,209.5,210,210.5,211,211.5], "format": ".1f", "grid": true, "title": "Height in [m]", "titlePadding": 12, "labelPadding": 6, "labelFlush": false}}
    }
   },
   {
    "data": {"name": "pts"},
    "mark": {"type": "point", "filled": true, "size": 30, "opacity": 1, "strokeWidth": 0},
    "encoding": {
     "x": {"field": "t", "type": "quantitative", "scale": {"domain": [1992, 2015], "nice": false, "zero": false},
      "axis": {"orient": "top", "values": [1992,1993,1994,1995,1996,1997,1998,1999,2000,2001,2002,2003,2004,2005,2006,2007,2008,2009,2010,2011,2012,2013,2014,2015], "labels": false, "grid": false, "title": null}},
     "y": {"field": "h", "type": "quantitative", "scale": {"domain": [208, 211.5], "nice": false, "zero": false},
      "axis": {"orient": "right", "values": [208,208.5,209,209.5,210,210.5,211,211.5], "labels": false, "grid": false, "title": null}},
     "color": {"field": "s", "type": "nominal",
      "scale": {"domain": ["In−Situ","DAHITI","LEGOS","ESA−DMU","GRLM"], "range": ["#ff0000","#0000ff","#00ee00","#00ffff","#ffa500"]},
      "legend": {"orient": "none", "legendX": 7, "legendY": -46, "direction": "horizontal", "columns": 5, "title": null, "symbolType": "circle", "symbolSize": 70, "symbolStrokeColor": "#000", "symbolStrokeWidth": 1, "labelOffset": 6, "columnPadding": 1.5, "gridAlign": "all", "padding": 0,
       "encode": {"symbols": {"update": {"stroke": {"value": "#000"}, "strokeWidth": {"value": 1}}}}}}
    }
   }
  ],
  "resolve": {"axis": {"x": "independent", "y": "independent"}}
 },
 {
  "layer": [
   {
    "data": {"values": [{}]},
    "mark": {"type": "rect", "fill": "white"},
    "encoding": {
     "x": {"datum": 2004, "type": "quantitative", "scale": {"domain": [2004, 2005], "range": [435.5, 750.5], "nice": false, "zero": false},
      "axis": {"orient": "bottom", "offset": -174, "values": [2004,2004.0833,2004.1667,2004.25,2004.3333,2004.4167,2004.5,2004.5833,2004.6667,2004.75,2004.8333,2004.9167,2005], "labels": false, "grid": false, "title": null, "zindex": 1}},
     "x2": {"datum": 2005},
     "y": {"datum": 208.5, "type": "quantitative", "scale": {"domain": [208.5, 210.5], "range": [62, -68.5], "nice": false, "zero": false},
      "axis": {"orient": "left", "offset": -435.5, "values": [208.5,208.75,209,209.25,209.5,209.75,210,210.25,210.5], "labels": false, "grid": false, "title": null, "zindex": 1}},
     "y2": {"datum": 210.5}
    }
   },
   {
    "data": {"name": "igx"},
    "mark": {"type": "rule", "color": "#222", "strokeWidth": 1},
    "encoding": {
     "x": {"field": "v", "type": "quantitative", "scale": {"domain": [2004, 2005], "range": [435.5, 750.5], "nice": false, "zero": false}, "axis": null},
     "y": {"datum": 208.5, "type": "quantitative", "scale": {"domain": [208.5, 210.5], "range": [62, -68.5], "nice": false, "zero": false}, "axis": null},
     "y2": {"datum": 210.5}
    }
   },
   {
    "data": {"name": "igy"},
    "mark": {"type": "rule", "color": "#222", "strokeWidth": 1},
    "encoding": {
     "y": {"field": "v", "type": "quantitative", "scale": {"domain": [208.5, 210.5], "range": [62, -68.5], "nice": false, "zero": false}, "axis": null},
     "x": {"datum": 2004, "type": "quantitative", "scale": {"domain": [2004, 2005], "range": [435.5, 750.5], "nice": false, "zero": false}, "axis": null},
     "x2": {"datum": 2005}
    }
   },
   {
    "data": {"name": "insitu04"},
    "mark": {"type": "line", "color": "#ff0000", "strokeWidth": 8, "strokeCap": "round", "strokeJoin": "round"},
    "encoding": {
     "x": {"field": "t", "type": "quantitative", "scale": {"domain": [2004, 2005], "range": [435.5, 750.5], "nice": false, "zero": false}, "axis": null},
     "y": {"field": "h", "type": "quantitative", "scale": {"domain": [208.5, 210.5], "range": [62, -68.5], "nice": false, "zero": false}, "axis": null}
    }
   },
   {
    "data": {"name": "pts04"},
    "mark": {"type": "point", "filled": true, "size": 28, "opacity": 1, "strokeWidth": 0},
    "encoding": {
     "x": {"field": "t", "type": "quantitative", "scale": {"domain": [2004, 2005], "range": [435.5, 750.5], "nice": false, "zero": false},
      "axis": {"orient": "top", "offset": 68.5, "values": [2004,2004.0833,2004.1667,2004.25,2004.3333,2004.4167,2004.5,2004.5833,2004.6667,2004.75,2004.8333,2004.9167,2005], "labels": false, "grid": false, "title": "2004", "titleFontSize": 12.5, "titlePadding": 3, "zindex": 1}},
     "y": {"field": "h", "type": "quantitative", "scale": {"domain": [208.5, 210.5], "range": [62, -68.5], "nice": false, "zero": false},
      "axis": {"orient": "right", "offset": 16, "values": [208.5,209,209.5,210,210.5], "format": ".1f", "grid": false, "title": "Height in [m]", "titleAngle": 270, "titlePadding": 22, "labelPadding": 4, "labelFlush": false, "zindex": 1}},
     "color": {"field": "s", "type": "nominal", "scale": {"domain": ["In−Situ","DAHITI","LEGOS","ESA−DMU","GRLM"], "range": ["#ff0000","#0000ff","#00ee00","#00ffff","#ffa500"]}}
    }
   },
   {
    "data": {"values": [{}]},
    "mark": {"type": "rect", "fill": "white", "stroke": "#000", "strokeWidth": 2, "cornerRadius": 2},
    "encoding": {
     "x": {"datum": 2004.015, "type": "quantitative", "scale": {"domain": [2004, 2005], "range": [435.5, 750.5], "nice": false, "zero": false}, "axis": null},
     "x2": {"datum": 2004.132},
     "y": {"datum": 210.09, "type": "quantitative", "scale": {"domain": [208.5, 210.5], "range": [62, -68.5], "nice": false, "zero": false}, "axis": null},
     "y2": {"datum": 210.40}
    }
   },
   {
    "data": {"values": [{"label": "2004"}]},
    "mark": {"type": "text", "fontSize": 11, "font": "Liberation Sans", "color": "#1a1a1a", "align": "center", "baseline": "middle"},
    "encoding": {
     "x": {"datum": 2004.0735, "type": "quantitative", "scale": {"domain": [2004, 2005], "range": [435.5, 750.5], "nice": false, "zero": false}, "axis": null},
     "y": {"datum": 210.245, "type": "quantitative", "scale": {"domain": [208.5, 210.5], "range": [62, -68.5], "nice": false, "zero": false}, "axis": null},
     "text": {"field": "label"}
    }
   }
  ],
  "resolve": {"axis": {"x": "independent", "y": "independent"}}
 }
],
"resolve": {"scale": {"x": "independent", "y": "independent"}}
}
